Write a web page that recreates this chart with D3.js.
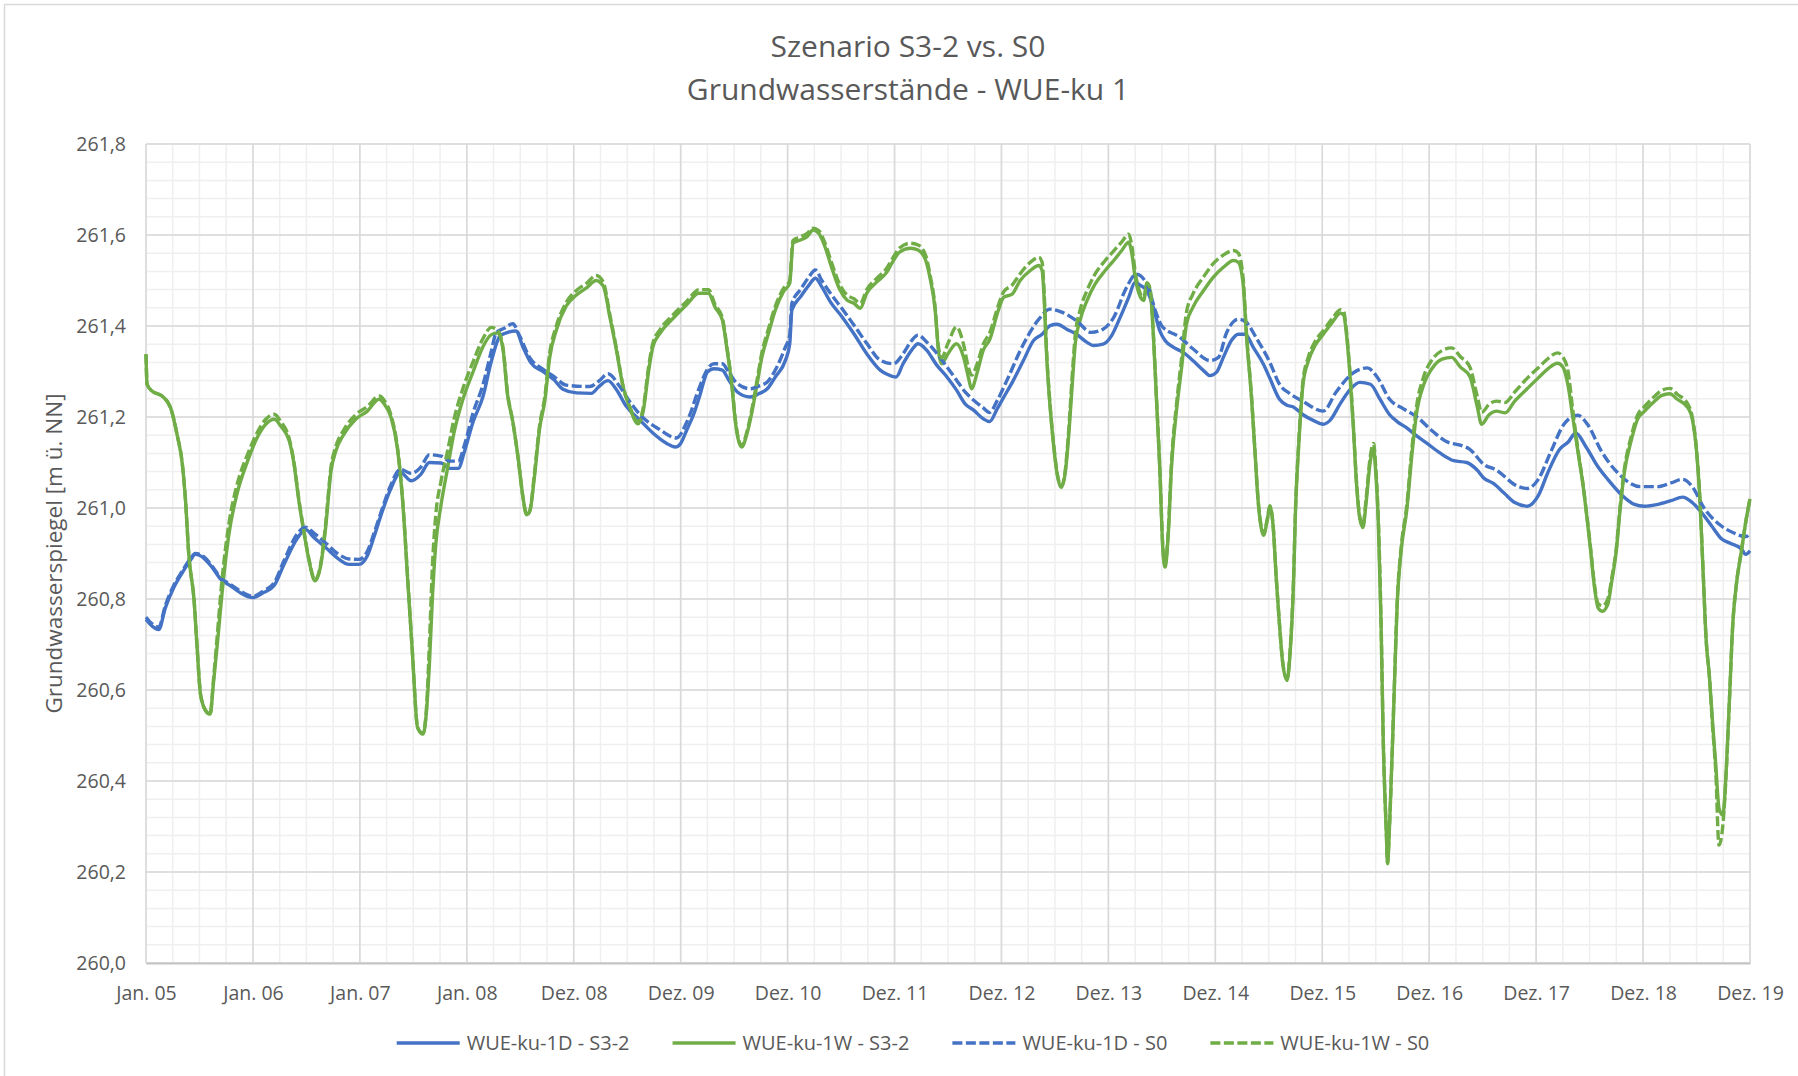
<!DOCTYPE html>
<html>
<head>
<meta charset="utf-8">
<script src="https://cdn.jsdelivr.net/npm/d3@7"></script>
<style>
  html, body { margin: 0; padding: 0; background: #fff; }
  svg { display: block; font-family: "Open Sans", sans-serif; }
</style>
</head>
<body>
<svg id="chart" width="1798" height="1076"></svg>
<script>
// x labels (one per year step, as in the original)
const xLabels = ['Jan. 05', 'Jan. 06', 'Jan. 07', 'Jan. 08', 'Dez. 08', 'Dez. 09', 'Dez. 10', 'Dez. 11',
  'Dez. 12', 'Dez. 13', 'Dez. 14', 'Dez. 15', 'Dez. 16', 'Dez. 17', 'Dez. 18', 'Dez. 19'];
const yTicks = [260.0, 260.2, 260.4, 260.6, 260.8, 261.0, 261.2, 261.4, 261.6, 261.8];
const seriesNames = ['WUE-ku-1D - S3-2', 'WUE-ku-1W - S3-2', 'WUE-ku-1D - S0', 'WUE-ku-1W - S0'];

// [years since Jan. 05, m ü. NN]
const d1S32 = [[0,260.755],[0.06,260.74],[0.12,260.733],[0.18,260.78],[0.26,260.825],[0.34,260.858],[0.42,260.887],[0.46,260.898],[0.54,260.89],[0.62,260.869],[0.70,260.843],[0.79,260.829],[0.88,260.814],[1.0,260.803],[1.10,260.814],[1.20,260.83],[1.29,260.876],[1.42,260.935],[1.49,260.953],[1.57,260.935],[1.68,260.913],[1.79,260.89],[1.90,260.876],[1.99,260.876],[2.07,260.895],[2.13,260.935],[2.20,260.986],[2.28,261.037],[2.38,261.078],[2.48,261.06],[2.57,261.074],[2.65,261.1],[2.76,261.099],[2.84,261.087],[2.92,261.087],[2.98,261.126],[3.06,261.19],[3.15,261.244],[3.23,261.323],[3.31,261.378],[3.37,261.385],[3.46,261.389],[3.525,261.354],[3.60,261.319],[3.71,261.3],[3.81,261.283],[3.90,261.261],[4.025,261.253],[4.165,261.252],[4.24,261.268],[4.32,261.28],[4.40,261.26],[4.49,261.224],[4.62,261.193],[4.74,261.165],[4.87,261.142],[4.95,261.134],[5.0,261.142],[5.06,261.173],[5.12,261.205],[5.18,261.248],[5.25,261.299],[5.31,261.306],[5.39,261.303],[5.45,261.281],[5.53,261.255],[5.65,261.244],[5.73,261.251],[5.81,261.262],[5.885,261.288],[5.98,261.325],[6.02,261.361],[6.04,261.435],[6.12,261.464],[6.20,261.49],[6.26,261.505],[6.32,261.486],[6.40,261.453],[6.51,261.42],[6.62,261.383],[6.74,261.339],[6.866,261.303],[6.93,261.294],[7.015,261.288],[7.08,261.317],[7.16,261.347],[7.22,261.361],[7.30,261.347],[7.395,261.314],[7.49,261.288],[7.58,261.259],[7.66,261.229],[7.74,261.215],[7.83,261.196],[7.89,261.19],[7.96,261.218],[8.02,261.243],[8.11,261.28],[8.205,261.324],[8.30,261.368],[8.38,261.382],[8.455,261.401],[8.52,261.404],[8.61,261.393],[8.70,261.382],[8.80,261.364],[8.86,261.357],[8.95,261.36],[9.03,261.379],[9.11,261.419],[9.19,261.463],[9.25,261.496],[9.30,261.489],[9.36,261.478],[9.42,261.441],[9.48,261.39],[9.53,261.368],[9.61,261.353],[9.70,261.342],[9.79,261.324],[9.89,261.302],[9.95,261.291],[10.01,261.298],[10.075,261.331],[10.15,261.368],[10.215,261.382],[10.28,261.382],[10.355,261.353],[10.45,261.316],[10.51,261.285],[10.60,261.239],[10.67,261.226],[10.73,261.222],[10.82,261.205],[10.92,261.192],[11.01,261.184],[11.07,261.192],[11.17,261.23],[11.26,261.26],[11.35,261.276],[11.45,261.272],[11.54,261.239],[11.63,261.205],[11.70,261.19],[11.79,261.176],[11.88,261.159],[11.98,261.142],[12.10,261.121],[12.23,261.104],[12.35,261.1],[12.45,261.083],[12.51,261.066],[12.60,261.054],[12.70,261.033],[12.80,261.012],[12.92,261.004],[13.02,261.027],[13.11,261.078],[13.22,261.129],[13.30,261.145],[13.37,261.165],[13.47,261.133],[13.58,261.09],[13.67,261.063],[13.79,261.031],[13.92,261.008],[14.01,261.004],[14.14,261.008],[14.26,261.016],[14.37,261.024],[14.46,261.012],[14.54,260.992],[14.64,260.961],[14.73,260.933],[14.82,260.922],[14.92,260.91],[14.96,260.898],[15.0,260.906]];

const w1S32 = [[0,261.338],[0.01,261.272],[0.056,261.257],[0.15,261.246],[0.23,261.22],[0.29,261.162],[0.34,261.096],[0.37,261.015],[0.40,260.898],[0.45,260.796],[0.48,260.686],[0.51,260.59],[0.56,260.554],[0.60,260.547],[0.63,260.613],[0.67,260.708],[0.71,260.81],[0.775,260.942],[0.85,261.03],[0.95,261.103],[1.04,261.155],[1.12,261.184],[1.20,261.195],[1.26,261.18],[1.34,261.147],[1.38,261.103],[1.43,261.015],[1.48,260.942],[1.525,260.884],[1.58,260.84],[1.63,260.869],[1.68,260.957],[1.73,261.081],[1.775,261.125],[1.85,261.162],[1.96,261.195],[2.07,261.213],[2.18,261.239],[2.23,261.228],[2.29,261.2],[2.35,261.133],[2.40,261.015],[2.45,260.832],[2.49,260.686],[2.54,260.517],[2.59,260.503],[2.62,260.545],[2.65,260.655],[2.68,260.81],[2.71,260.92],[2.76,261.008],[2.82,261.087],[2.88,261.165],[2.96,261.236],[3.06,261.3],[3.15,261.354],[3.23,261.381],[3.29,261.385],[3.34,261.346],[3.38,261.25],[3.43,261.19],[3.48,261.11],[3.525,261.024],[3.56,260.985],[3.59,260.993],[3.63,261.063],[3.68,261.173],[3.73,261.236],[3.775,261.33],[3.84,261.393],[3.93,261.444],[4.025,261.468],[4.12,261.484],[4.21,261.5],[4.275,261.488],[4.34,261.417],[4.40,261.346],[4.46,261.268],[4.525,261.22],[4.60,261.185],[4.65,261.213],[4.70,261.3],[4.74,261.354],[4.81,261.385],[4.93,261.417],[5.06,261.448],[5.17,261.472],[5.26,261.472],[5.32,261.442],[5.39,261.413],[5.43,261.354],[5.48,261.266],[5.51,261.193],[5.54,261.149],[5.57,261.134],[5.62,261.163],[5.67,261.215],[5.71,261.266],[5.76,261.332],[5.82,261.383],[5.885,261.435],[5.96,261.475],[6.02,261.494],[6.05,261.582],[6.12,261.589],[6.18,261.596],[6.24,261.611],[6.29,261.604],[6.35,261.574],[6.41,261.53],[6.49,261.479],[6.555,261.457],[6.62,261.45],[6.68,261.439],[6.74,261.472],[6.835,261.497],[6.93,261.519],[6.975,261.538],[7.05,261.563],[7.15,261.571],[7.22,261.567],[7.29,261.545],[7.33,261.508],[7.38,261.435],[7.41,261.347],[7.44,261.317],[7.50,261.339],[7.58,261.361],[7.645,261.332],[7.69,261.288],[7.72,261.262],[7.77,261.295],[7.83,261.347],[7.89,261.37],[7.97,261.434],[8.02,261.463],[8.10,261.47],[8.175,261.5],[8.27,261.522],[8.35,261.533],[8.38,261.522],[8.40,261.456],[8.42,261.346],[8.455,261.221],[8.486,261.141],[8.52,261.075],[8.56,261.045],[8.595,261.075],[8.63,261.163],[8.66,261.265],[8.69,261.36],[8.735,261.412],[8.80,261.456],[8.875,261.492],[8.97,261.522],[9.05,261.544],[9.125,261.566],[9.19,261.584],[9.22,261.558],[9.25,261.507],[9.30,261.463],[9.33,261.456],[9.36,261.492],[9.39,261.478],[9.42,261.382],[9.45,261.236],[9.48,261.09],[9.51,260.906],[9.53,260.87],[9.56,260.943],[9.59,261.09],[9.64,261.221],[9.685,261.309],[9.73,261.404],[9.79,261.441],[9.89,261.478],[9.98,261.507],[10.075,261.529],[10.17,261.544],[10.215,261.54],[10.26,261.492],[10.29,261.382],[10.34,261.236],[10.37,261.126],[10.40,261.016],[10.43,260.955],[10.45,260.94],[10.485,260.972],[10.51,261.003],[10.54,260.961],[10.57,260.844],[10.60,260.743],[10.63,260.659],[10.67,260.621],[10.70,260.684],[10.73,260.827],[10.75,260.995],[10.78,261.138],[10.82,261.272],[10.87,261.323],[10.93,261.356],[11.01,261.382],[11.09,261.407],[11.17,261.428],[11.20,261.424],[11.23,261.373],[11.26,261.289],[11.29,261.18],[11.32,261.054],[11.35,260.978],[11.38,260.957],[11.41,261.012],[11.45,261.104],[11.48,261.129],[11.50,261.079],[11.525,260.961],[11.55,260.743],[11.57,260.491],[11.60,260.28],[11.61,260.218],[11.63,260.306],[11.67,260.575],[11.70,260.785],[11.74,260.911],[11.79,260.995],[11.84,261.121],[11.88,261.205],[11.95,261.272],[12.025,261.306],[12.12,261.327],[12.21,261.331],[12.29,261.31],[12.38,261.289],[12.45,261.222],[12.49,261.184],[12.56,261.205],[12.63,261.213],[12.71,261.209],[12.80,261.235],[12.92,261.263],[13.02,261.286],[13.11,261.306],[13.20,261.318],[13.25,261.31],[13.30,261.267],[13.34,261.204],[13.39,261.125],[13.44,261.047],[13.48,260.969],[13.51,260.906],[13.545,260.827],[13.58,260.78],[13.62,260.773],[13.67,260.788],[13.71,260.843],[13.75,260.906],[13.78,260.984],[13.825,261.078],[13.89,261.149],[13.95,261.196],[14.01,261.212],[14.11,261.235],[14.17,261.247],[14.25,261.251],[14.32,261.239],[14.42,261.22],[14.46,261.196],[14.50,261.125],[14.53,261.024],[14.56,260.867],[14.59,260.71],[14.62,260.631],[14.65,260.529],[14.68,260.435],[14.71,260.341],[14.745,260.325],[14.78,260.435],[14.81,260.592],[14.84,260.749],[14.87,260.827],[14.92,260.906],[14.96,260.969],[15.0,261.02]];

const d1S0 = [[0,260.76],[0.06,260.745],[0.12,260.738],[0.18,260.785],[0.26,260.83],[0.34,260.862],[0.42,260.89],[0.46,260.9],[0.54,260.893],[0.62,260.872],[0.70,260.846],[0.79,260.832],[0.88,260.818],[1.0,260.806],[1.10,260.818],[1.20,260.836],[1.29,260.884],[1.42,260.945],[1.49,260.958],[1.57,260.945],[1.68,260.923],[1.79,260.9],[1.90,260.888],[1.99,260.887],[2.07,260.905],[2.13,260.943],[2.20,260.992],[2.28,261.045],[2.38,261.085],[2.48,261.076],[2.57,261.09],[2.65,261.117],[2.76,261.114],[2.84,261.103],[2.92,261.103],[2.98,261.14],[3.06,261.21],[3.15,261.27],[3.23,261.345],[3.275,261.385],[3.35,261.395],[3.43,261.405],[3.49,261.38],[3.59,261.33],[3.71,261.305],[3.81,261.29],[3.93,261.27],[4.15,261.267],[4.24,261.28],[4.32,261.295],[4.43,261.267],[4.52,261.235],[4.62,261.205],[4.80,261.173],[4.96,261.154],[5.06,261.19],[5.18,261.268],[5.25,261.305],[5.31,261.317],[5.39,261.317],[5.45,261.298],[5.53,261.273],[5.65,261.262],[5.73,261.268],[5.81,261.277],[5.90,261.31],[5.98,261.354],[6.02,261.38],[6.04,261.45],[6.12,261.48],[6.20,261.508],[6.26,261.523],[6.32,261.5],[6.40,261.472],[6.51,261.438],[6.62,261.402],[6.74,261.362],[6.866,261.325],[6.99,261.317],[7.08,261.339],[7.16,261.368],[7.22,261.38],[7.30,261.365],[7.395,261.34],[7.49,261.31],[7.58,261.281],[7.66,261.255],[7.74,261.237],[7.83,261.22],[7.89,261.21],[7.96,261.236],[8.05,261.28],[8.205,261.36],[8.35,261.415],[8.455,261.437],[8.57,261.43],[8.70,261.412],[8.84,261.386],[8.95,261.393],[9.05,261.419],[9.17,261.485],[9.26,261.514],[9.36,261.492],[9.45,261.426],[9.50,261.4],[9.67,261.375],[9.79,261.35],[9.95,261.324],[10.03,261.331],[10.10,261.382],[10.215,261.415],[10.29,261.408],[10.38,261.375],[10.51,261.32],[10.60,261.272],[10.70,261.251],[10.82,261.234],[11.01,261.213],[11.13,261.255],[11.29,261.297],[11.42,261.308],[11.51,261.289],[11.63,261.239],[11.76,261.218],[11.88,261.201],[12.04,261.167],[12.16,261.146],[12.29,261.138],[12.38,261.129],[12.51,261.096],[12.63,261.083],[12.76,261.058],[12.80,261.051],[12.92,261.043],[13.02,261.063],[13.14,261.125],[13.26,261.184],[13.39,261.204],[13.48,261.184],[13.61,261.125],[13.76,261.078],[13.98,261.047],[14.14,261.047],[14.26,261.055],[14.37,261.063],[14.46,261.047],[14.57,261.0],[14.73,260.961],[14.85,260.945],[14.96,260.937],[15.0,260.945]];

const w1S0 = [[0,261.338],[0.01,261.272],[0.056,261.257],[0.15,261.246],[0.23,261.22],[0.29,261.162],[0.34,261.096],[0.37,261.015],[0.40,260.898],[0.45,260.796],[0.48,260.686],[0.51,260.59],[0.56,260.554],[0.60,260.547],[0.63,260.62],[0.67,260.73],[0.71,260.84],[0.775,260.965],[0.85,261.05],[0.95,261.118],[1.04,261.166],[1.12,261.195],[1.20,261.206],[1.26,261.19],[1.34,261.152],[1.38,261.106],[1.43,261.018],[1.48,260.945],[1.525,260.886],[1.58,260.842],[1.63,260.872],[1.68,260.965],[1.73,261.09],[1.775,261.135],[1.85,261.172],[1.96,261.205],[2.07,261.223],[2.18,261.246],[2.23,261.236],[2.29,261.205],[2.35,261.136],[2.40,261.018],[2.45,260.835],[2.49,260.688],[2.54,260.518],[2.59,260.505],[2.62,260.55],[2.65,260.7],[2.68,260.88],[2.71,260.985],[2.76,261.06],[2.82,261.125],[2.88,261.195],[2.96,261.26],[3.06,261.322],[3.15,261.372],[3.23,261.397],[3.29,261.39],[3.34,261.35],[3.38,261.255],[3.43,261.19],[3.48,261.11],[3.525,261.024],[3.56,260.985],[3.59,260.995],[3.63,261.07],[3.68,261.18],[3.73,261.245],[3.775,261.34],[3.84,261.402],[3.93,261.452],[4.025,261.478],[4.12,261.494],[4.21,261.511],[4.275,261.497],[4.34,261.422],[4.40,261.35],[4.46,261.27],[4.525,261.222],[4.60,261.19],[4.65,261.22],[4.70,261.31],[4.74,261.362],[4.81,261.393],[4.93,261.425],[5.06,261.455],[5.17,261.48],[5.26,261.48],[5.32,261.448],[5.39,261.418],[5.43,261.358],[5.48,261.27],[5.51,261.197],[5.54,261.152],[5.57,261.137],[5.62,261.168],[5.67,261.222],[5.71,261.275],[5.76,261.342],[5.82,261.393],[5.885,261.443],[5.96,261.482],[6.02,261.5],[6.05,261.588],[6.12,261.596],[6.18,261.603],[6.24,261.615],[6.29,261.61],[6.35,261.582],[6.41,261.54],[6.49,261.49],[6.555,261.468],[6.62,261.46],[6.68,261.45],[6.74,261.48],[6.835,261.505],[6.93,261.528],[6.975,261.546],[7.05,261.572],[7.15,261.582],[7.22,261.578],[7.29,261.556],[7.33,261.515],[7.38,261.44],[7.41,261.355],[7.44,261.33],[7.50,261.362],[7.58,261.398],[7.645,261.36],[7.69,261.31],[7.72,261.292],[7.77,261.315],[7.83,261.36],[7.89,261.385],[7.97,261.445],[8.02,261.475],[8.10,261.49],[8.175,261.515],[8.27,261.54],[8.35,261.551],[8.38,261.54],[8.40,261.47],[8.42,261.355],[8.455,261.225],[8.486,261.145],[8.52,261.078],[8.56,261.048],[8.595,261.08],[8.63,261.175],[8.66,261.285],[8.69,261.38],[8.735,261.435],[8.80,261.478],[8.875,261.514],[8.97,261.544],[9.05,261.565],[9.125,261.585],[9.19,261.602],[9.22,261.575],[9.25,261.52],[9.30,261.47],[9.33,261.46],[9.36,261.495],[9.39,261.482],[9.42,261.385],[9.45,261.24],[9.48,261.092],[9.51,260.91],[9.53,260.875],[9.56,260.95],[9.59,261.1],[9.64,261.235],[9.685,261.33],[9.73,261.43],[9.79,261.47],[9.89,261.508],[9.98,261.537],[10.075,261.556],[10.17,261.566],[10.215,261.56],[10.26,261.505],[10.29,261.39],[10.34,261.24],[10.37,261.128],[10.40,261.018],[10.43,260.958],[10.45,260.943],[10.485,260.975],[10.51,261.005],[10.54,260.963],[10.57,260.846],[10.60,260.745],[10.63,260.662],[10.67,260.625],[10.70,260.69],[10.73,260.835],[10.75,261.0],[10.78,261.145],[10.82,261.28],[10.87,261.332],[10.93,261.365],[11.01,261.39],[11.09,261.415],[11.17,261.436],[11.20,261.432],[11.23,261.38],[11.26,261.295],[11.29,261.185],[11.32,261.058],[11.35,260.982],[11.38,260.962],[11.41,261.02],[11.45,261.115],[11.48,261.142],[11.50,261.09],[11.525,260.97],[11.55,260.75],[11.57,260.495],[11.60,260.282],[11.61,260.22],[11.63,260.31],[11.67,260.58],[11.70,260.79],[11.74,260.918],[11.79,261.005],[11.84,261.135],[11.88,261.22],[11.95,261.29],[12.025,261.325],[12.12,261.346],[12.21,261.352],[12.29,261.333],[12.38,261.31],[12.45,261.245],[12.49,261.21],[12.56,261.228],[12.63,261.235],[12.71,261.232],[12.80,261.255],[12.92,261.286],[13.02,261.308],[13.11,261.328],[13.20,261.341],[13.25,261.332],[13.30,261.298],[13.34,261.22],[13.39,261.13],[13.44,261.05],[13.48,260.972],[13.51,260.91],[13.545,260.832],[13.58,260.79],[13.62,260.785],[13.67,260.8],[13.71,260.85],[13.75,260.912],[13.78,260.99],[13.825,261.085],[13.89,261.158],[13.95,261.205],[14.01,261.222],[14.11,261.246],[14.17,261.258],[14.25,261.263],[14.32,261.25],[14.42,261.228],[14.46,261.2],[14.50,261.128],[14.53,261.028],[14.56,260.87],[14.59,260.71],[14.62,260.63],[14.65,260.52],[14.68,260.42],[14.71,260.259],[14.745,260.3],[14.78,260.43],[14.81,260.59],[14.84,260.749],[14.87,260.827],[14.92,260.906],[14.96,260.969],[15.0,261.02]];

const blue = '#4472c4', green = '#70ad47', textColor = '#595959';
const series = [
  {name: seriesNames[0], data: d1S32, color: blue, dash: null},
  {name: seriesNames[1], data: w1S32, color: green, dash: null},
  {name: seriesNames[2], data: d1S0, color: blue, dash: '10 3.5'},
  {name: seriesNames[3], data: w1S0, color: green, dash: '10 3.5'}
];

const svg = d3.select('#chart');
const plot = {left: 146, top: 144, right: 1750, bottom: 963};
const centerX = 908;

const x = d3.scaleLinear().domain([0, 15]).range([plot.left, plot.right]);
const y = d3.scaleLinear().domain([260, 261.8]).range([plot.bottom, plot.top]);
const de = d3.formatLocale({decimal: ',', thousands: '.', grouping: [3], currency: ['', ' €']});
const fmt = de.format('.1f');

// chart area border (right and bottom edges are outside the picture)
svg.append('rect')
  .attr('x', 4.5).attr('y', 4.5)
  .attr('width', 1900).attr('height', 1200)
  .attr('fill', 'none').attr('stroke', '#d9d9d9').attr('stroke-width', 1.5);

// minor grid
const minorY = d3.range(0, 46).map(i => 260 + i * 0.04);
const minorX = d3.range(0, 61).map(i => i / 4);
svg.append('g').selectAll('line').data(minorY).enter().append('line')
  .attr('x1', plot.left).attr('x2', plot.right)
  .attr('y1', d => y(d)).attr('y2', d => y(d))
  .attr('stroke', '#efefef').attr('stroke-width', 1.5);
svg.append('g').selectAll('line').data(minorX).enter().append('line')
  .attr('x1', d => x(d)).attr('x2', d => x(d))
  .attr('y1', plot.top).attr('y2', plot.bottom)
  .attr('stroke', '#efefef').attr('stroke-width', 1.5);

// major grid
svg.append('g').selectAll('line').data(yTicks).enter().append('line')
  .attr('x1', plot.left).attr('x2', plot.right)
  .attr('y1', d => y(d)).attr('y2', d => y(d))
  .attr('stroke', '#d9d9d9').attr('stroke-width', 1.6);
svg.append('g').selectAll('line').data(d3.range(0, 16)).enter().append('line')
  .attr('x1', d => x(d)).attr('x2', d => x(d))
  .attr('y1', plot.top).attr('y2', plot.bottom)
  .attr('stroke', '#d9d9d9').attr('stroke-width', 1.6);

// axes
const yAxis = svg.append('g')
  .attr('transform', `translate(${plot.left},0)`)
  .call(d3.axisLeft(y).tickValues(yTicks).tickFormat(fmt).tickSize(0).tickPadding(20));
yAxis.select('.domain').remove();
yAxis.selectAll('text')
  .attr('fill', textColor).style('font-size', '19.5px').style('font-family', '"Open Sans", sans-serif');

const xAxis = svg.append('g')
  .attr('transform', `translate(0,${plot.bottom})`)
  .call(d3.axisBottom(x).tickValues(d3.range(0, 16)).tickFormat(i => xLabels[i]).tickSize(0).tickPadding(23));
xAxis.select('.domain').attr('stroke', '#c4c4c4').attr('stroke-width', 2);
xAxis.selectAll('text')
  .attr('fill', textColor).style('font-size', '19.5px').style('font-family', '"Open Sans", sans-serif');

// series
const line = d3.line()
  .x(d => x(d[0]))
  .y(d => y(d[1]))
  .curve(d3.curveMonotoneX);

svg.append('g').selectAll('path').data(series).enter().append('path')
  .attr('d', d => line(d.data))
  .attr('fill', 'none')
  .attr('stroke', d => d.color)
  .attr('stroke-width', 3.4)
  .attr('stroke-linejoin', 'round')
  .attr('stroke-dasharray', d => d.dash);

// titles
svg.append('text')
  .attr('x', centerX).attr('y', 56.5)
  .attr('text-anchor', 'middle').attr('fill', textColor)
  .style('font-size', '30px')
  .text('Szenario S3-2 vs. S0');
svg.append('text')
  .attr('x', centerX).attr('y', 100)
  .attr('text-anchor', 'middle').attr('fill', textColor)
  .style('font-size', '30px')
  .text('Grundwasserstände - WUE-ku 1');

svg.append('text')
  .attr('transform', `translate(62,${(plot.top + plot.bottom) / 2}) rotate(-90)`)
  .attr('text-anchor', 'middle').attr('fill', textColor)
  .style('font-size', '22.5px')
  .text('Grundwasserspiegel [m ü. NN]');

// legend
const legend = svg.append('g');
const lineLen = 63, gap = 7, spacing = 43;
let cursor = 0;
series.forEach(s => {
  const item = legend.append('g').attr('transform', `translate(${cursor},0)`);
  item.append('line')
    .attr('x1', 0).attr('x2', lineLen).attr('y1', 0).attr('y2', 0)
    .attr('stroke', s.color).attr('stroke-width', 3.4)
    .attr('stroke-dasharray', s.dash);
  const t = item.append('text')
    .attr('x', lineLen + gap).attr('y', 7)
    .attr('fill', textColor).style('font-size', '20px')
    .text(s.name);
  cursor += lineLen + gap + t.node().getComputedTextLength() + spacing;
});
const legendWidth = cursor - spacing;
legend.attr('transform', `translate(${centerX + 5 - legendWidth / 2},1043)`);
</script>
</body>
</html>
